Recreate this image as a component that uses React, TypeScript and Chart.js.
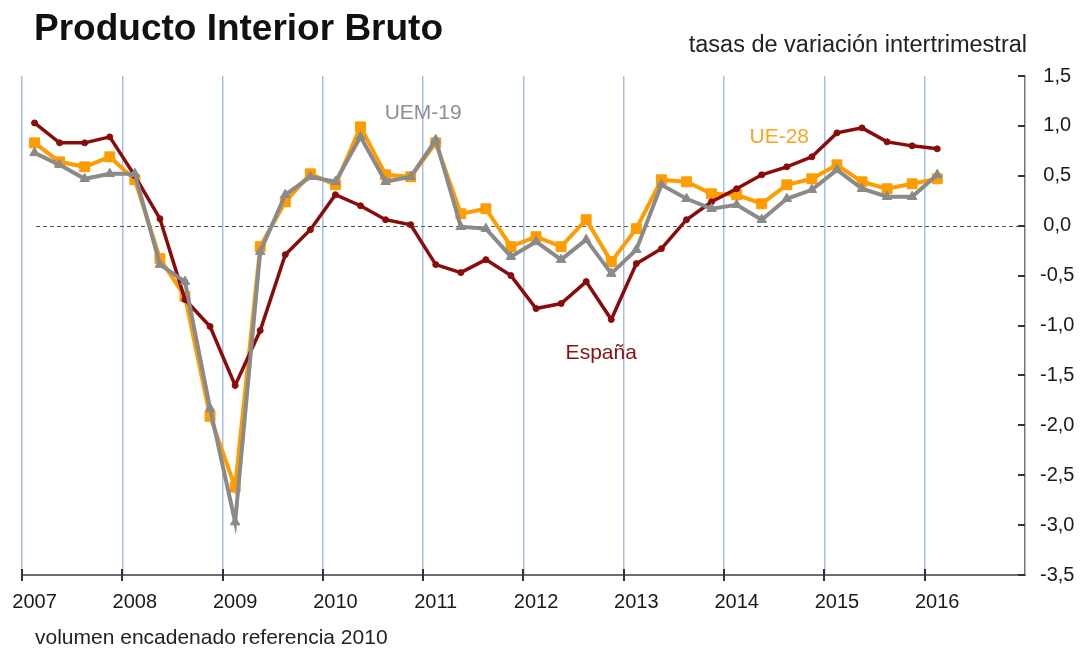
import { useEffect, useRef } from 'react';
import { Chart, registerables } from 'chart.js';

Chart.register(...registerables);

const FONT = '"Liberation Sans", Arial, Helvetica, sans-serif';

const years = [2007, 2008, 2009, 2010, 2011, 2012, 2013, 2014, 2015, 2016];
const quarters = ['T1', 'T2', 'T3', 'T4'];
const categories = years.flatMap((y) => quarters.map((q) => `${y} ${q}`));

const espana = [
  1.03, 0.83, 0.83, 0.89,
  0.50, 0.07, -0.74, -1.01,
  -1.60, -1.05, -0.29, -0.04,
  0.31, 0.20, 0.06, 0.01,
  -0.39, -0.47, -0.34, -0.50,
  -0.83, -0.78, -0.56, -0.94,
  -0.38, -0.23, 0.06, 0.24,
  0.37, 0.51, 0.59, 0.69,
  0.93, 0.98, 0.84, 0.80,
  0.77,
];

const ue28 = [
  0.83, 0.64, 0.59, 0.69,
  0.46, -0.33, -0.71, -1.91,
  -2.62, -0.21, 0.24, 0.52,
  0.41, 0.99, 0.51, 0.49,
  0.83, 0.12, 0.17, -0.21,
  -0.11, -0.21, 0.06, -0.36,
  -0.03, 0.46, 0.44, 0.32,
  0.31, 0.22, 0.41, 0.47,
  0.61, 0.44, 0.37, 0.42,
  0.47,
];

const uem19 = [
  0.73, 0.61, 0.47, 0.52,
  0.52, -0.39, -0.56, -1.83,
  -2.97, -0.26, 0.31, 0.49,
  0.44, 0.89, 0.44, 0.49,
  0.86, -0.01, -0.03, -0.31,
  -0.16, -0.34, -0.14, -0.48,
  -0.24, 0.41, 0.27, 0.17,
  0.21, 0.06, 0.27, 0.36,
  0.56, 0.37, 0.29, 0.29,
  0.51,
];

const seriesNames = ['UEM-19', 'España', 'UE-28'];
const yMin = -3.5;
const yMax = 1.5;
const yStep = 0.5;

const titleText = 'Producto Interior Bruto';
const subtitleText = 'tasas de variación intertrimestral';
const noteText = 'volumen encadenado referencia 2010';

const COLORS = {
  uem: '#8a8a8a',
  esp: '#8b0a0a',
  ue: '#ff9c00',
};

const decorPlugin = {
  id: 'decor',
  beforeDatasetsDraw(chart: any) {
    const { ctx, chartArea, scales } = chart;
    const y = scales.y;
    const y0 = Math.round(y.getPixelForValue(0)) + 0.5;
    ctx.save();
    ctx.strokeStyle = '#555';
    ctx.lineWidth = 1;
    ctx.setLineDash([4, 3]);
    ctx.beginPath();
    ctx.moveTo(chartArea.left + 14, y0);
    ctx.lineTo(chartArea.right - 4, y0);
    ctx.stroke();
    ctx.restore();
  },
  afterDraw(chart: any) {
    const { ctx, chartArea, scales } = chart;
    const x = scales.x;
    const y = scales.y;
    ctx.save();
    ctx.strokeStyle = '#333';
    ctx.lineWidth = 2;
    y.ticks.forEach((t: any) => {
      const py = Math.round(y.getPixelForValue(t.value));
      ctx.beginPath();
      ctx.moveTo(chartArea.right - 7, py);
      ctx.lineTo(chartArea.right, py);
      ctx.stroke();
    });
    const half = (x.getPixelForValue(1) - x.getPixelForValue(0)) / 2;
    years.forEach((_, k) => {
      const px = Math.round(x.getPixelForValue(k * 4) - half);
      ctx.beginPath();
      ctx.moveTo(px, chartArea.bottom - 6);
      ctx.lineTo(px, chartArea.bottom + 6);
      ctx.stroke();
    });

    ctx.textBaseline = 'middle';
    ctx.textAlign = 'center';
    ctx.font = `21px ${FONT}`;
    const labels = [
      { text: seriesNames[0], at: 15.5, v: 1.13, color: '#8f8f8f' },
      { text: seriesNames[2], at: 29.7, v: 0.89, color: '#ffa31a' },
      { text: seriesNames[1], at: 22.6, v: -1.28, color: '#8b1010' },
    ];
    labels.forEach((l) => {
      ctx.fillStyle = l.color;
      ctx.fillText(l.text, x.getPixelForValue(l.at), y.getPixelForValue(l.v));
    });

    ctx.textBaseline = 'alphabetic';
    ctx.fillStyle = '#111';
    ctx.textAlign = 'left';
    ctx.font = `bold 37px ${FONT}`;
    ctx.fillText(titleText, 34, 40);
    ctx.fillStyle = '#222';
    ctx.textAlign = 'right';
    ctx.font = `23.5px ${FONT}`;
    ctx.fillText(subtitleText, 1027, 52);
    ctx.textAlign = 'left';
    ctx.font = `21px ${FONT}`;
    ctx.fillText(noteText, 35, 644);
    ctx.restore();
  },
};

export default function App() {
  const ref = useRef<HTMLCanvasElement>(null);

  useEffect(() => {
    if (!ref.current) return;
    Chart.defaults.font.family = FONT;
    const chart = new Chart(ref.current, {
      type: 'line',
      data: {
        labels: categories,
        datasets: [
          {
            label: seriesNames[0],
            data: uem19,
            borderColor: COLORS.uem,
            backgroundColor: COLORS.uem,
            borderWidth: 4,
            pointStyle: 'triangle',
            pointRadius: 5.5,
            pointBorderWidth: 1,
            tension: 0,
          },
          {
            label: seriesNames[1],
            data: espana,
            borderColor: COLORS.esp,
            backgroundColor: COLORS.esp,
            borderWidth: 3.5,
            pointStyle: 'circle',
            pointRadius: 3,
            pointBorderWidth: 1,
            tension: 0,
          },
          {
            label: seriesNames[2],
            data: ue28,
            borderColor: COLORS.ue,
            backgroundColor: COLORS.ue,
            borderWidth: 4,
            pointStyle: 'rect',
            pointRadius: 7,
            pointBorderWidth: 1,
            tension: 0,
          },
        ],
      },
      options: {
        responsive: false,
        animation: false,
        events: [],
        layout: { padding: { top: 76, left: 22, right: 0, bottom: 0 } },
        plugins: {
          legend: { display: false },
          tooltip: { enabled: false },
          title: { display: false },
        },
        scales: {
          x: {
            type: 'category',
            offset: true,
            afterFit: (scale: any) => {
              scale.height = 78;
              scale.paddingLeft = 0;
              scale.paddingRight = 0;
            },
            grid: {
              offset: true,
              drawTicks: false,
              lineWidth: 1.5,
              color: (ctx: any) =>
                typeof ctx.index === 'number' && ctx.index % 4 === 0 ? '#a3bdec' : 'transparent',
            },
            border: { display: true, color: '#6e6e6e', width: 2 },
            ticks: {
              autoSkip: false,
              maxRotation: 0,
              minRotation: 0,
              padding: 15,
              color: '#1a1a1a',
              font: { size: 20, family: FONT },
              callback: (_v: any, i: number) => (i % 4 === 0 ? String(years[i / 4]) : ''),
            },
          },
          y: {
            type: 'linear',
            position: 'right',
            min: yMin,
            max: yMax,
            afterFit: (scale: any) => {
              scale.width = 62;
            },
            grid: { drawOnChartArea: false, drawTicks: false },
            border: { display: true, color: '#777', width: 1.5 },
            ticks: {
              stepSize: yStep,
              crossAlign: 'center',
              padding: 15,
              color: '#1a1a1a',
              font: { size: 20, family: FONT },
              callback: (v: any) => Number(v).toFixed(1).replace('.', ','),
            },
          },
        },
      },
      plugins: [decorPlugin],
    });
    return () => chart.destroy();
  }, []);

  return (
    <div style={{ position: 'fixed', left: 0, top: 0, width: 1087, height: 653, background: '#fff' }}>
      <canvas ref={ref} width={1087} height={653} style={{ display: 'block' }} />
    </div>
  );
}
